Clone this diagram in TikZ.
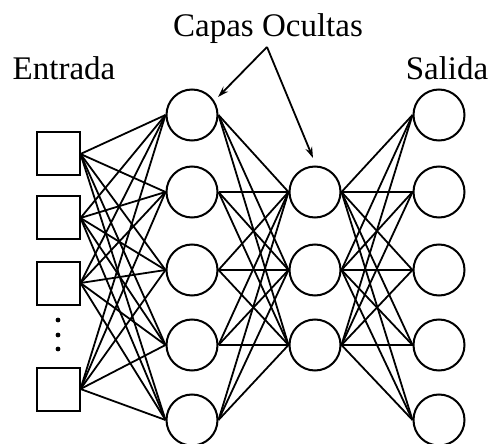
\documentclass[tikz,border=0pt]{standalone}
\usepackage{fontspec}
\setmainfont{Liberation Serif}
\usetikzlibrary{arrows.meta}
\tikzset{
  entrybox/.style={draw,rectangle,line width=2pt,minimum size=43pt,inner sep=0pt},
  neuron/.style={draw,circle,line width=2pt,minimum size=51pt,inner sep=0pt},
  link/.style={line width=1.8pt},
  titletext/.style={font=\fontsize{33}{40}\selectfont}
}
\begin{document}
\begin{tikzpicture}[x=1pt,y=-1pt,>={Stealth[length=11pt,width=7pt]}]
  \useasboundingbox (0,0) rectangle (491,444);
  % entrada
  \foreach \i/\y in {1/154,2/218,3/283,4/389}
    \node[entrybox] (in\i) at (58,\y) {};
  \foreach \d/\y in {1/320,2/335,3/349}
    \fill (58,\y) circle (2.4pt);
  % capas ocultas y salida
  \foreach \i/\y in {1/115,2/192,3/270,4/345,5/420}
    \node[neuron] (ha\i) at (192,\y) {};
  \foreach \i/\y in {1/192,2/270,3/345}
    \node[neuron] (hb\i) at (315,\y) {};
  \foreach \i/\y in {1/115,2/192,3/270,4/345,5/420}
    \node[neuron] (out\i) at (439,\y) {};
  % conexiones
  \foreach \i in {1,...,4}
    \foreach \j in {1,...,5}
      \draw[link] (in\i.east) -- (ha\j.west);
  \foreach \i in {1,...,5}
    \foreach \j in {1,...,3}
      \draw[link] (ha\i.east) -- (hb\j.west);
  \foreach \i in {1,...,3}
    \foreach \j in {1,...,5}
      \draw[link] (hb\i.east) -- (out\j.west);
  % textos
  \node[titletext] (entrada) at (64,68) {Entrada};
  \node[titletext] (salida) at (447,68) {Salida};
  \node[titletext] (ocultas) at (268,29) {Capas Ocultas};
  \coordinate (fork) at (267,47);
  \draw[->,line width=1.8pt] (fork) -- (218,97);
  \draw[->,line width=1.8pt] (fork) -- (313,158);
\end{tikzpicture}
\end{document}
